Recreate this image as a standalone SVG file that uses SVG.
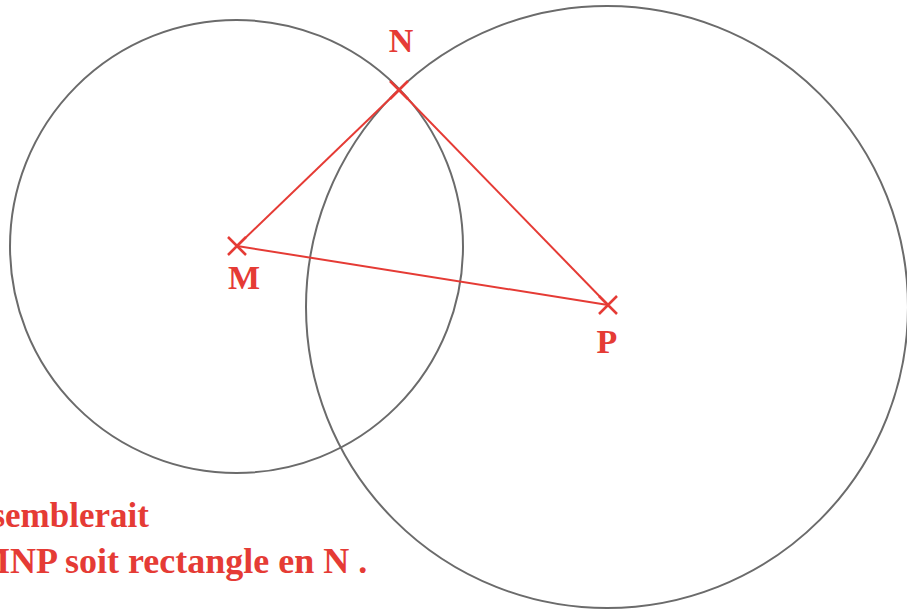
<svg xmlns="http://www.w3.org/2000/svg" width="907" height="614" viewBox="0 0 907 614">
<style>
.c{fill:none;stroke:#6b6b6b;stroke-width:2}
.r{stroke:#e53b35;stroke-width:2;fill:none}
.x{stroke-width:2.5}
.t{font-family:"Liberation Serif",serif;font-weight:bold;font-size:34px;fill:#e53b35}
</style>
<rect width="907" height="614" fill="#fff"/>
<g id="circle-M"><circle class="c" cx="236.5" cy="246.5" r="226.5"/></g>
<g id="circle-P"><circle class="c" cx="607" cy="307" r="301"/></g>
<g id="connectors">
<line class="r" x1="237" y1="246" x2="399" y2="90"/>
<line class="r" x1="399" y1="90" x2="608" y2="305"/>
<line class="r" x1="237" y1="246" x2="608" y2="305"/>
</g>
<g id="M"><path class="r x" d="M228 237l18 18M228 255l18-18"/><text class="t" x="244" y="289" text-anchor="middle">M</text></g>
<g id="N"><path class="r x" d="M390 81l18 18M390 99l18-18"/><text class="t" x="401" y="52" text-anchor="middle">N</text></g>
<g id="P"><path class="r x" d="M599 296l18 18M599 314l18-18"/><text class="t" x="607" y="353" text-anchor="middle">P</text></g>
<g id="caption">
<text class="t" x="-8.6" y="527" style="font-size:35px">semblerait</text>
<text class="t" x="-24" y="573" style="font-size:36px">MNP soit rectangle en N .</text>
</g>
</svg>
